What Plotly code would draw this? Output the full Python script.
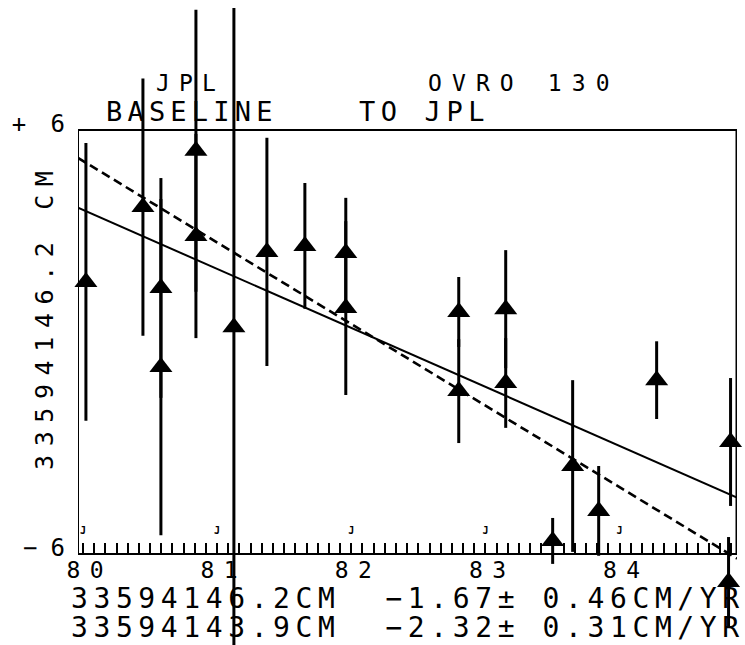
import plotly.graph_objects as go

# ---------------- data ----------------
years = [80.022, 80.447, 80.581, 80.581, 80.842, 80.842, 81.125, 81.371, 81.654,
         81.959, 81.959, 82.801, 82.801, 83.151, 83.151, 83.501, 83.650, 83.844,
         84.276, 84.827, 84.812]
offsets_cm = [1.70, 3.82, 1.53, -0.71, 5.41, 3.00, 0.42, 2.55, 2.72,
              2.52, 0.96, 0.85, -1.39, 0.93, -1.16, -5.63, -3.51, -4.78,
              -1.08, -2.83, -6.79]
sigma_cm = [3.93, 3.64, 3.11, 4.76, 3.99, 2.89, 9.03, 3.23, 1.78,
            1.56, 2.46, 0.99, 1.47, 1.67, 1.27, 0.65, 2.43, 1.27,
            1.10, 1.81, 1.27]

fit_years = [79.963, 84.875]
fit_solid_cm = [3.80, -4.40]      # 33594146.2 cm, -1.67 cm/yr
fit_dashed_cm = [5.21, -6.13]     # 33594143.9 cm, -2.32 cm/yr

frame_years = [79.963, 84.875]
frame_cm = [-6, 6]

jan_years = [80, 81, 82, 83, 84]
x_tick_vals = [80, 81, 82, 83, 84]
x_tick_labels = ["80", "81", "82", "83", "84"]
y_tick_vals = [-6, 6]

fit_lengths = ["33594146.2CM", "33594143.9CM"]
fit_rates = ["\u22121.67", "\u22122.32"]
fit_rate_errs = ["0.46CM/YR", "0.31CM/YR"]

title_top_left = "JPL"
title_bottom_left = "BASELINE"
title_top_right = "OVRO 130"
title_bottom_right = "TO JPL"
y_title = "33594146.2 CM"

# ---------------- helpers ----------------
FONT = "DejaVu Sans Mono"
W, H = 745, 645
L, R, T, B = 78, 8, 0, 0
PW, PH = W - L - R, H - T - B
AXIS_Y_PX = 554          # pixel row of the bottom frame line


def px(xp):
    return (xp - L) / PW


def py(yp):
    return (H - B - yp) / PH


def spaced(s, ls):
    s = s.replace(" ", "\u00a0")
    if len(s) < 2:
        return s
    return "<span style='letter-spacing:%gpx'>%s</span>%s" % (ls, s[:-1], s[-1])


fig = go.Figure()

fig.add_trace(go.Scatter(
    x=fit_years, y=fit_solid_cm, mode="lines",
    line=dict(color="black", width=2), hoverinfo="skip", showlegend=False))
fig.add_trace(go.Scatter(
    x=fit_years, y=fit_dashed_cm, mode="lines",
    line=dict(color="black", width=2.6, dash="9px,5px"), hoverinfo="skip", showlegend=False))

fig.add_trace(go.Scatter(
    x=years, y=offsets_cm, mode="markers",
    marker=dict(symbol="triangle-up", size=20, color="black", line=dict(width=0)),
    error_y=dict(type="data", array=sigma_cm, visible=True, thickness=3, width=0, color="black"),
    cliponaxis=False, showlegend=False))

fig.add_trace(go.Scatter(
    x=jan_years, y=[-5.35] * len(jan_years), mode="text", text=["<b>J</b>"] * len(jan_years),
    textfont=dict(family=FONT, size=10, color="black"), hoverinfo="skip", showlegend=False))

# plot frame (box of the +/-6 cm window)
fig.add_shape(type="rect", xref="x", yref="y",
              x0=frame_years[0], x1=frame_years[1], y0=frame_cm[0], y1=frame_cm[1],
              line=dict(color="black", width=2), fillcolor="rgba(0,0,0,0)", layer="above")
fig.add_shape(type="line", xref="x", yref="y",
              x0=frame_years[1], x1=frame_years[1], y0=frame_cm[0], y1=frame_cm[1],
              line=dict(color="black", width=3), layer="above")

ann = []


def add_text(txt, xp, yp, size, ls, xanchor="left", angle=0):
    ann.append(dict(text=spaced(txt, ls), x=px(xp), y=py(yp), xref="paper", yref="paper",
                    xanchor=xanchor, yanchor="middle", showarrow=False, textangle=angle,
                    font=dict(family=FONT, size=size, color="black")))


add_text(title_top_left, 154, 83, 23, 9.1)
add_text(title_top_right, 426, 83, 23, 10.1)
add_text(title_bottom_left, 104, 111, 27, 5.2)
add_text(title_bottom_right, 357, 111, 27, 5.6)
add_text(y_title, 45, 321, 25, 8.6, xanchor="center", angle=-90)

for i, (a, b, c) in enumerate(zip(fit_lengths, fit_rates, fit_rate_errs)):
    line = a + "  " + b + "\u00b1 " + c
    add_text(line, 69, 598 + 29 * i, 28, 5.6)

px_per_cm = (AXIS_Y_PX - 130) / 12.0
y0_px = AXIS_Y_PX - 6 * px_per_cm
y_top = y0_px / px_per_cm
y_bot = -(H - y0_px) / px_per_cm

fig.update_layout(
    width=W, height=H,
    margin=dict(l=L, r=R, t=T, b=B, pad=0),
    paper_bgcolor="white", plot_bgcolor="white",
    font=dict(family=FONT, color="black"),
    annotations=ann,
    xaxis=dict(
        range=[frame_years[0], frame_years[1]], showgrid=False, zeroline=False,
        showline=False, automargin=False,
        anchor="free", position=(H - AXIS_Y_PX) / H,
        tickvals=x_tick_vals,
        ticktext=[spaced(t, 9.4) for t in x_tick_labels],
        ticks="inside", ticklen=11, tickwidth=2, tickcolor="black",
        tickfont=dict(family=FONT, size=23, color="black"),
        ticklabelshift=2, ticklabelstandoff=0,
        minor=dict(dtick=1 / 12, tick0=80, ticks="inside", ticklen=11,
                   tickwidth=2, tickcolor="black", showgrid=False),
    ),
    yaxis=dict(
        range=[y_bot, y_top], showgrid=False, zeroline=False,
        showline=False, automargin=False,
        tickvals=y_tick_vals,
        ticktext=["<span style='letter-spacing:13px'>\u2212</span>6",
                  "<span style='letter-spacing:5px'>+\u00a0</span>6"],
        ticks="", tickfont=dict(family=FONT, size=24, color="black"),
        ticklabelstandoff=12, ticklabelshift=-6,
    ),
)

fig.write_html("out.html", config={"displayModeBar": False},
               post_script="document.body.style.margin='0';")
